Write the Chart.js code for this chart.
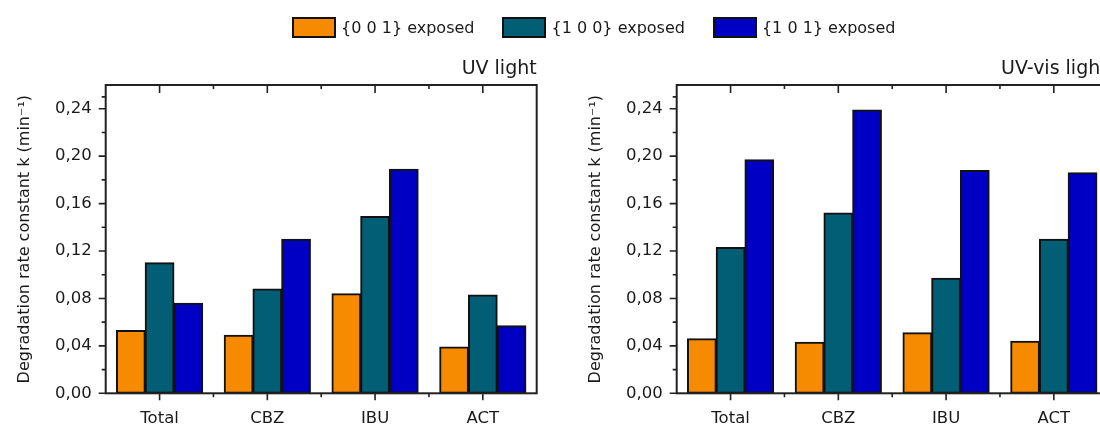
<!DOCTYPE html>
<html>
<head>
<meta charset="utf-8">
<script src="https://cdn.jsdelivr.net/npm/chart.js@4.4.1/dist/chart.umd.min.js"></script>
<style>
  html, body { margin: 0; padding: 0; background: #fff; width: 1100px; height: 424px; overflow: hidden; }
  #wrap { position: relative; width: 1100px; height: 424px; }
  canvas { position: absolute; top: 0; }
  #uvChart { left: 0; }
  #visChart { left: 571px; }
  #legend { position: absolute; top: 17px; left: 292px; display: flex; gap: 28px; font: 16px "DejaVu Sans"; color: #1a1a1a; z-index: 2; }
  .item { display: flex; align-items: center; gap: 5px; }
  .box { width: 40px; height: 17px; border: 2px solid #111; }
</style>
</head>
<body>
<div id="wrap">
  <div id="legend"></div>
  <canvas id="uvChart" width="540" height="424"></canvas>
  <canvas id="visChart" width="540" height="424"></canvas>
</div>
<script>
const categories = ["Total", "CBZ", "IBU", "ACT"];
const seriesNames = ["{0 0 1} exposed", "{1 0 0} exposed", "{1 0 1} exposed"];
const seriesColors = ["#F68A00", "#015E75", "#0000C4"];

// UV light
const uv001 = [0.053, 0.049, 0.084, 0.039];
const uv100 = [0.110, 0.088, 0.149, 0.083];
const uv101 = [0.076, 0.130, 0.189, 0.057];

// UV-vis light
const vis001 = [0.046, 0.043, 0.051, 0.044];
const vis100 = [0.123, 0.152, 0.097, 0.130];
const vis101 = [0.197, 0.239, 0.188, 0.186];

const yTicks = [0, 0.04, 0.08, 0.12, 0.16, 0.20, 0.24];
const yMax = 0.26;
const yTitle = "Degradation rate constant k (min\u207B\u00B9)";

const FONT = "DejaVu Sans";
const INK = "#1a1a1a";

// legend shared by both panels
const legend = document.getElementById("legend");
seriesNames.forEach((name, i) => {
  const item = document.createElement("div");
  item.className = "item";
  const box = document.createElement("span");
  box.className = "box";
  box.style.background = seriesColors[i];
  const label = document.createElement("span");
  label.textContent = name;
  item.appendChild(box);
  item.appendChild(label);
  legend.appendChild(item);
});

// frame plus major/minor ticks in the Origin style
const frameTicks = {
  id: "frameTicks",
  afterDatasetsDraw(chart) {
    const { ctx, chartArea: a, scales: { x, y } } = chart;
    ctx.save();
    ctx.strokeStyle = "#222";
    ctx.lineWidth = 2;
    ctx.strokeRect(a.left, a.top, a.right - a.left, a.bottom - a.top);
    ctx.lineWidth = 1.6;
    ctx.beginPath();
    yTicks.forEach((v, i) => {
      const py = y.getPixelForValue(v);
      ctx.moveTo(a.left - 7, py);
      ctx.lineTo(a.left, py);
      const next = i < yTicks.length - 1 ? yTicks[i + 1] : yMax;
      const pm = y.getPixelForValue((v + Math.min(next, v + 0.04)) / 2);
      if (pm > a.top) {
        ctx.moveTo(a.left - 4, pm);
        ctx.lineTo(a.left, pm);
      }
    });
    categories.forEach((c, i) => {
      const px = x.getPixelForValue(i);
      ctx.moveTo(px, a.bottom);
      ctx.lineTo(px, a.bottom + 7);
      ctx.moveTo(px, a.top);
      ctx.lineTo(px, a.top + 8);
      if (i > 0) {
        const pm = (px + x.getPixelForValue(i - 1)) / 2;
        ctx.moveTo(pm, a.bottom);
        ctx.lineTo(pm, a.bottom + 4);
        ctx.moveTo(pm, a.top);
        ctx.lineTo(pm, a.top + 4);
      }
    });
    ctx.stroke();
    ctx.restore();
  }
};

function makePanel(id, title, values) {
  return new Chart(document.getElementById(id), {
    type: "bar",
    data: {
      labels: categories,
      datasets: values.map((data, i) => ({
        label: seriesNames[i],
        data: data,
        backgroundColor: seriesColors[i],
        borderColor: "#111",
        borderWidth: 2,
        borderSkipped: false,
        inflateAmount: 0.5,
        categoryPercentage: 0.8,
        barPercentage: 1.0
      }))
    },
    options: {
      responsive: false,
      animation: false,
      devicePixelRatio: 1,
      layout: { padding: { top: 50, right: 3.3, left: 0, bottom: 0 } },
      plugins: {
        legend: { display: false },
        tooltip: { enabled: false },
        title: {
          display: true,
          text: title,
          align: "end",
          color: INK,
          font: { family: FONT, size: 19, weight: "normal" },
          padding: { top: 8, bottom: 4.2 }
        }
      },
      scales: {
        x: {
          grid: { display: false },
          border: { display: false },
          ticks: { color: INK, font: { family: FONT, size: 16.5 }, padding: 8 },
          afterFit: (s) => { s.height = 30.7; }
        },
        y: {
          min: 0,
          max: yMax,
          grid: { display: false },
          border: { display: false },
          afterBuildTicks: (s) => { s.ticks = yTicks.map((v) => ({ value: v })); },
          ticks: {
            color: INK,
            font: { family: FONT, size: 16.5 },
            padding: 6,
            callback: (v) => Number(v).toFixed(2).replace(".", ",")
          },
          title: {
            display: true,
            text: yTitle,
            color: INK,
            font: { family: FONT, size: 16 },
            padding: { top: 15, bottom: 0 }
          },
          afterFit: (s) => { s.width = 105.7; }
        }
      }
    },
    plugins: [frameTicks]
  });
}

makePanel("uvChart", "UV light", [uv001, uv100, uv101]);
makePanel("visChart", "UV-vis light", [vis001, vis100, vis101]);
</script>
</body>
</html>
